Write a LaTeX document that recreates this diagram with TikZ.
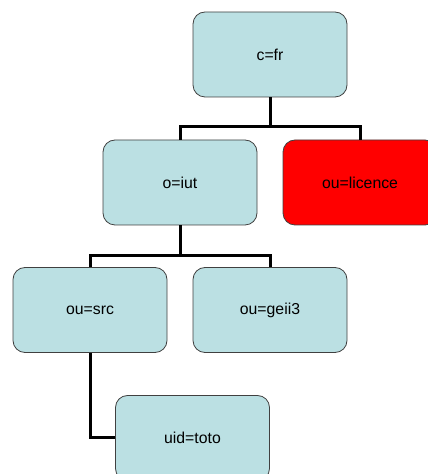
\documentclass[tikz,border=0pt]{standalone}
\usepackage{fontspec}
\setmainfont{Liberation Sans}
\usepackage{xcolor}
\definecolor{boxblue}{HTML}{BBE0E3}
\definecolor{boxred}{HTML}{FF0000}
\definecolor{boxline}{HTML}{404040}

\begin{document}
\begin{tikzpicture}[x=1pt,y=1pt,
  entry/.style={draw=boxline, line width=0.8pt, fill=boxblue, rounded corners=12pt,
                minimum width=154pt, minimum height=85pt, inner sep=0pt,
                font=\fontsize{15.8}{19}\selectfont},
  link/.style={line width=3pt, black}]

% Frame of the page
\useasboundingbox (0,0) rectangle (428,474);
\clip (0,0) rectangle (428,474);

% Entries of the directory tree
\node[entry] (cfr)     at (270,419.5) {c=fr};
\node[entry] (oiut)    at (180,291.5) {o=iut};
\node[entry, fill=boxred] (licence) at (360,291.5) {ou=licence};
\node[entry] (src)     at ( 90,164)   {ou=src};
\node[entry] (geii)    at (270,164)   {ou=geii3};
\node[entry] (toto)    at (192.5,36)  {uid=toto};

% Branches
\coordinate (j1) at (270,347);
\coordinate (j2) at (180,218.5);
\draw[link] (cfr.south) -- (j1) -| (oiut.north);
\draw[link] (j1) -| (licence.north);
\draw[link] (oiut.south) -- (j2) -| (src.north);
\draw[link] (j2) -| (geii.north);
\draw[link] (src.south) |- (toto.west);

\end{tikzpicture}
\end{document}
